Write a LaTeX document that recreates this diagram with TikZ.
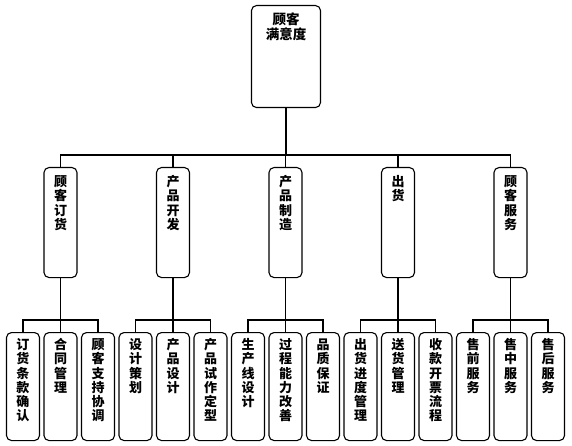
\documentclass[tikz,border=0pt]{standalone}
\usepackage{fontspec}
\setmainfont{Noto Sans CJK SC}
\usetikzlibrary{positioning}

% one character per line, fixed pitch
\makeatletter
\newcommand\vtext[1]{\vbox{\offinterlineskip\@tfor\vch:=#1\do{%
  \hbox to 16pt{\hss\smash{\vch}\hss\vrule height 11.2pt depth 3pt width 0pt}}}}
\makeatother

\tikzset{
  box/.style={draw, rounded corners=5pt, minimum width=33pt, inner sep=0pt, anchor=north},
  rootbox/.style={box, minimum width=69pt, minimum height=102pt},
  groupbox/.style={box, minimum height=110pt},
  leafbox/.style={box, minimum height=108pt},
  vlab/.style={anchor=north, inner sep=0pt, yshift=-6pt, font=\bfseries\fontsize{13}{14}\selectfont},
  rootlab/.style={anchor=north, align=center, inner sep=0pt, yshift=-7pt,
    font=\bfseries\fontsize{13.5}{15}\selectfont},
}

\begin{document}
\begin{tikzpicture}[x=1pt, y=-1pt, line width=1.1pt]
\useasboundingbox (0,0) rectangle (572,446);

% top
\node[rootbox, label={[rootlab]north:{顾客\\满意度}}] (sat) at (286,5) {};
\coordinate (bus) at (286,155);
\draw (sat) -- (bus);

% second level
\node[groupbox, label={[vlab, yshift=-2pt]north:{\vtext{顾客订货}}}] (order) at (60.5,167) {};
\node[groupbox, label={[vlab, yshift=-2pt]north:{\vtext{产品开发}}}] (dev) at (173,167) {};
\node[groupbox, label={[vlab, yshift=-2pt]north:{\vtext{产品制造}}}] (make) at (285.5,167) {};
\node[groupbox, label={[vlab, yshift=-2pt]north:{\vtext{出货}}}] (ship) at (398,167) {};
\node[groupbox, label={[vlab, yshift=-2pt]north:{\vtext{顾客服务}}}] (serv) at (510.5,167) {};
\draw (order) |- (bus) -| (serv);
\draw (bus) -| (dev);
\draw (bus) -| (make);
\draw (bus) -| (ship);

% leaves
\node[leafbox, label={[vlab]north:{\vtext{订货条款确认}}}] (ord1) at (23,332) {};
\node[leafbox, label={[vlab]north:{\vtext{合同管理}}}] (ord2) at (60.5,332) {};
\node[leafbox, label={[vlab]north:{\vtext{顾客支持协调}}}] (ord3) at (98,332) {};
\node[leafbox, label={[vlab]north:{\vtext{设计策划}}}] (dev1) at (135.5,332) {};
\node[leafbox, label={[vlab]north:{\vtext{产品设计}}}] (dev2) at (173,332) {};
\node[leafbox, label={[vlab]north:{\vtext{产品试作定型}}}] (dev3) at (210.5,332) {};
\node[leafbox, label={[vlab]north:{\vtext{生产线设计}}}] (make1) at (248,332) {};
\node[leafbox, label={[vlab]north:{\vtext{过程能力改善}}}] (make2) at (285.5,332) {};
\node[leafbox, label={[vlab]north:{\vtext{品质保证}}}] (make3) at (323,332) {};
\node[leafbox, label={[vlab]north:{\vtext{出货进度管理}}}] (ship1) at (360.5,332) {};
\node[leafbox, label={[vlab]north:{\vtext{送货管理}}}] (ship2) at (398,332) {};
\node[leafbox, label={[vlab]north:{\vtext{收款开票流程}}}] (ship3) at (435.5,332) {};
\node[leafbox, label={[vlab]north:{\vtext{售前服务}}}] (serv1) at (473,332) {};
\node[leafbox, label={[vlab]north:{\vtext{售中服务}}}] (serv2) at (510.5,332) {};
\node[leafbox, label={[vlab]north:{\vtext{售后服务}}}] (serv3) at (548,332) {};

% sub-buses
\coordinate (ordbus) at (60.5,320);
\coordinate (devbus) at (173,320);
\coordinate (makebus) at (285.5,320);
\coordinate (shipbus) at (398,320);
\coordinate (servbus) at (510.5,320);
\draw (order) -- (ordbus) -- (ord2);
\draw (ord1) |- (ordbus) -| (ord3);
\draw (dev) -- (devbus) -- (dev2);
\draw (dev1) |- (devbus) -| (dev3);
\draw (make) -- (makebus) -- (make2);
\draw (make1) |- (makebus) -| (make3);
\draw (ship) -- (shipbus) -- (ship2);
\draw (ship1) |- (shipbus) -| (ship3);
\draw (serv) -- (servbus) -- (serv2);
\draw (serv1) |- (servbus) -| (serv3);
\end{tikzpicture}
\end{document}
